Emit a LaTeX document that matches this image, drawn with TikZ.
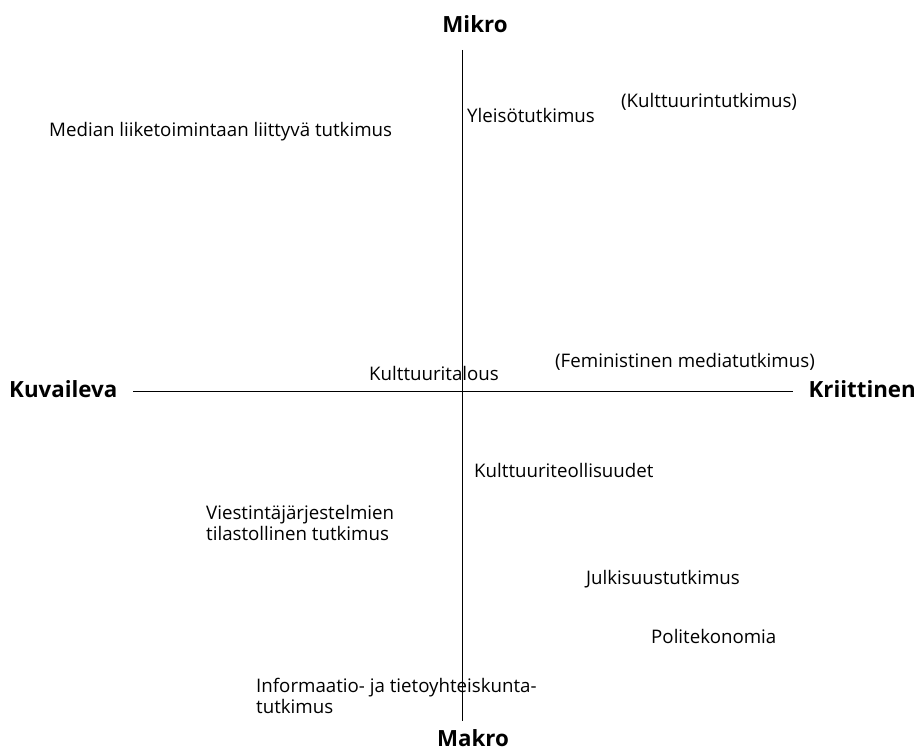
\documentclass[tikz,border=0pt]{standalone}
\usepackage{fontspec}
\setmainfont{Open Sans}
\begin{document}
\begin{tikzpicture}[x=1pt,y=-1pt,
  lbl/.style={inner sep=0pt, font=\fontsize{18.7}{21.5}\selectfont, align=left},
  axl/.style={inner sep=0pt, font=\fontsize{22.3}{26}\selectfont\bfseries}]
\useasboundingbox (0,0) rectangle (917,754);
\coordinate (top) at (462,50);
\coordinate (bot) at (462,721);
\coordinate (lft) at (133,391);
\coordinate (rgt) at (793,391);
\draw[line width=1pt] (top) -- (bot);
\draw[line width=1pt] (lft) -- (rgt);
\node[axl] (mikro) at (475,24) {Mikro};
\node[axl, anchor=base] (makro) at (473,746) {Makro};
\node[axl, anchor=west] (kuv) at (9,389) {Kuvaileva};
\node[axl, anchor=east] (kri) at (916,389) {Kriittinen};
\node[lbl, anchor=west] (yle) at (467,115) {Yleisötutkimus};
\node[lbl, anchor=west] (kul) at (621,102) {(Kulttuurintutkimus)};
\node[lbl, anchor=west] (med) at (49,132) {Median liiketoimintaan liittyvä tutkimus};
\node[lbl, anchor=west] (kta) at (369,373) {Kulttuuritalous};
\node[lbl, anchor=west] (fem) at (555,362) {(Feministinen mediatutkimus)};
\node[lbl, anchor=west] (kte) at (474,470) {Kulttuuriteollisuudet};
\node[lbl, anchor=west] (vie) at (206,523) {Viestintäjärjestelmien\\tilastollinen tutkimus};
\node[lbl, anchor=west] (jul) at (586,579) {Julkisuustutkimus};
\node[lbl, anchor=west] (pol) at (651,636) {Politekonomia};
\node[lbl, anchor=west] (inf) at (256,696) {Informaatio- ja tietoyhteiskunta-\\tutkimus};
\end{tikzpicture}
\end{document}
